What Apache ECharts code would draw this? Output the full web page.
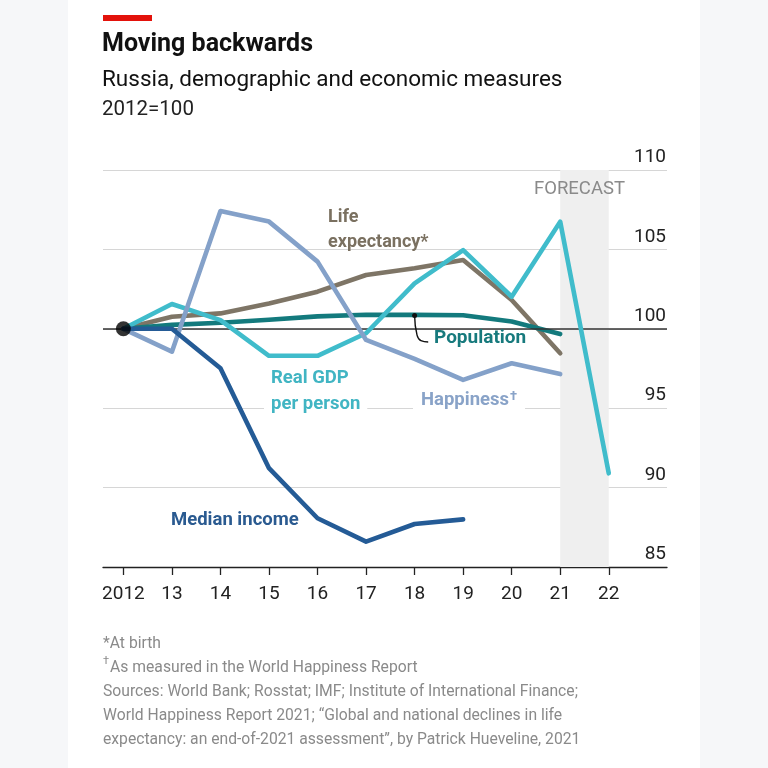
<!DOCTYPE html>
<html>
<head>
<meta charset="utf-8">
<script src="https://cdn.jsdelivr.net/npm/echarts@6/dist/echarts.min.js"></script>
<style>
html,body{margin:0;padding:0;background:#fff;}
#c{width:768px;height:768px;}
</style>
</head>
<body>
<div id="c"></div>
<script>
const years = [2012, 2013, 2014, 2015, 2016, 2017, 2018, 2019, 2020, 2021, 2022];
const tickLabels = ['2012', '13', '14', '15', '16', '17', '18', '19', '20', '21', '22'];
const lifeExpectancy = [100, 100.76, 100.97, 101.6, 102.34, 103.39, 103.81, 104.33, 101.81, 98.46, null];
const population = [100, 100.25, 100.38, 100.57, 100.78, 100.88, 100.88, 100.85, 100.46, 99.67, null];
const realGdp = [100, 101.56, 100.55, 98.3, 98.3, 99.72, 102.86, 104.96, 102.02, 106.74, 90.9];
const happiness = [100, 98.56, 107.42, 106.75, 104.23, 99.3, 98.1, 96.78, 97.83, 97.15, null];
const medianIncome = [100, 100, 97.51, 91.22, 88.07, 86.6, 87.71, 88.0, null, null, null];
const forecastRange = [2021, 2022];
const yTicks = [85, 90, 95, 100, 105, 110];

const FONT = 'Roboto';
const pair = arr => years.map((y, i) => [y, arr[i]]).filter(p => p[1] !== null);

const chart = echarts.init(document.getElementById('c'), null, {renderer: 'canvas'});

function lineSeries(name, data, color, z) {
  return {
    name, type: 'line', data: pair(data), showSymbol: false, symbol: 'none',
    lineStyle: {color, width: 4.6, join: 'round', cap: 'round'}, z, silent: true, animation: false
  };
}

const option = {
  animation: false,
  backgroundColor: '#ffffff',
  grid: {left: 103, right: 101, top: 170, bottom: 201},
  xAxis: {
    type: 'value', min: 2011.58, max: 2023.2,
    axisLine: {show: true, lineStyle: {color: '#222', width: 1.3}},
    axisTick: {show: true, customValues: years, length: 8, lineStyle: {color: '#222', width: 1.3}},
    axisLabel: {show: true, customValues: years, margin: 18, fontFamily: FONT, fontSize: 19, color: '#222',
      formatter: v => tickLabels[years.indexOf(Math.round(v))] || ''},
    splitLine: {show: false}
  },
  yAxis: {
    type: 'value', min: 85, max: 110, interval: 5, position: 'right',
    axisLine: {show: false}, axisTick: {show: false},
    axisLabel: {inside: true, margin: 1, verticalAlign: 'bottom', padding: [0, 0, 3, 0],
      fontFamily: FONT, fontSize: 19, color: '#222',
      formatter: v => yTicks.includes(v) ? String(v) : ''},
    splitLine: {show: true, lineStyle: {color: '#d6d6d6', width: 1}}
  },
  series: [
    {
      name: 'forecast', type: 'line', data: [], z: 0,
      markArea: {silent: true, itemStyle: {color: '#efefef'},
        data: [[{xAxis: forecastRange[0]}, {xAxis: forecastRange[1]}]]},
      markLine: {silent: true, symbol: 'none', label: {show: false},
        lineStyle: {color: '#333', width: 1.5, type: 'solid'},
        data: [{yAxis: 100}]}
    },
    lineSeries('Life expectancy', lifeExpectancy, '#7e7566', 3),
    lineSeries('Population', population, '#137a7d', 4),
    lineSeries('Real GDP per person', realGdp, '#40bccb', 5),
    lineSeries('Happiness', happiness, '#84a1c9', 6),
    lineSeries('Median income', medianIncome, '#245b96', 7),
    {
      name: 'leader', type: 'line', smooth: 0.5,
      data: [[2018, 100.83], [2018.05, 99.6], [2018.13, 99.25], [2018.28, 99.17]],
      symbol: 'circle', symbolSize: (v, p) => p.dataIndex === 0 ? 5 : 0, showSymbol: true,
      itemStyle: {color: '#111'}, lineStyle: {color: '#111', width: 1.4}, z: 8
    },
    {
      name: 'base', type: 'scatter', data: [[years[0], 100]], symbolSize: 15,
      itemStyle: {color: '#000'}, z: 10
    }
  ],
  graphic: [
    {type: 'rect', left: 0, top: 0, shape: {width: 68, height: 768}, style: {fill: '#f6f7f9'}, z: -10},
    {type: 'rect', left: 700, top: 0, shape: {width: 68, height: 768}, style: {fill: '#f6f7f9'}, z: -10},
    {type: 'rect', left: 103, top: 15, shape: {width: 49, height: 6}, style: {fill: '#e3120b'}},
    {type: 'text', left: 102, top: 32, style: {text: 'Moving backwards', font: 'bold 25px ' + FONT, fill: '#111'}},
    {type: 'text', left: 102, top: 69, style: {text: 'Russia, demographic and economic measures', font: '22.5px ' + FONT, fill: '#111'}},
    {type: 'text', left: 102, top: 99, style: {text: '2012=100', font: '20.5px ' + FONT, fill: '#222'}},
    {type: 'text', left: 534, top: 180, style: {text: 'FORECAST', font: '18.5px ' + FONT, fill: '#8a8a8a'}, z: 20},
    {type: 'text', left: 328, top: 205, style: {text: 'Life\nexpectancy*', font: 'bold 18px ' + FONT, fill: '#7a7060', lineHeight: 25}, z: 20},
    {type: 'text', left: 434, top: 329, style: {text: 'Population', font: 'bold 19px ' + FONT, fill: '#177a7d'}, z: 20},
    {type: 'text', left: 264, top: 365, style: {text: 'Real GDP\nper person', font: 'bold 18.5px ' + FONT, fill: '#41b5c3', lineHeight: 26, backgroundColor: '#fff', padding: [0, 7, 0, 7]}, z: 20},
    {type: 'text', left: 413, top: 388, style: {
      text: '{a|Happiness}{s|\u2020}', backgroundColor: '#fff', padding: [2, 8, 2, 8],
      rich: {a: {font: 'bold 18.5px ' + FONT, fill: '#89a3c8', color: '#89a3c8'},
             s: {font: 'bold 13px ' + FONT, fill: '#89a3c8', color: '#89a3c8', verticalAlign: 'top', padding: [0, 0, 8, 1]}}}, z: 20},
    {type: 'text', left: 171, top: 511, style: {text: 'Median income', font: 'bold 18.5px ' + FONT, fill: '#2a5a90'}, z: 20},
    {type: 'text', left: 103, top: 632, style: {
      text: '*At birth\n{s|\u2020}As measured in the World Happiness Report\nSources: World Bank; Rosstat; IMF; Institute of International Finance;\nWorld Happiness Report 2021; \u201cGlobal and national declines in life\nexpectancy: an end-of-2021 assessment\u201d, by Patrick Hueveline, 2021',
      font: '15.7px ' + FONT, fill: '#8a8a8a', lineHeight: 24,
      rich: {s: {font: '11px ' + FONT, fill: '#8a8a8a', color: '#8a8a8a', verticalAlign: 'top', padding: [0, 1, 8, 0]}}}}
  ]
};
chart.setOption(option);
</script>
</body>
</html>
